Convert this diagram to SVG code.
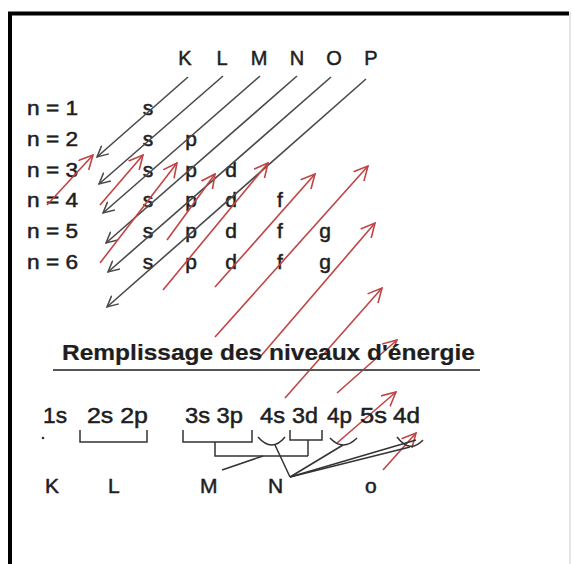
<svg xmlns="http://www.w3.org/2000/svg" width="573" height="564" viewBox="0 0 573 564">
<defs>
<style>
text{font-family:"Liberation Sans",Arial,sans-serif;fill:#1e1e1e;stroke:#1e1e1e;stroke-width:0.5}
.hd{font-size:20px;text-anchor:middle}
.nl{font-size:20px}
.sl{font-size:21px;text-anchor:middle}
.ti{font-size:22px;font-weight:bold;stroke-width:0.2}
.bt{font-size:22px}
.sh{font-size:21px}
.g{stroke:#4a4a4a;stroke-width:1.6;fill:none;marker-end:url(#ga)}
.r{stroke:#c04444;stroke-width:1.6;fill:none;marker-end:url(#ra)}
.k{stroke:#333;stroke-width:1.5;fill:none}
</style>
<marker id="ga" viewBox="0 0 12 12" refX="11" refY="6" markerWidth="12" markerHeight="12" orient="auto" markerUnits="userSpaceOnUse">
<path d="M0,0.5 L11,6 L0,11.5" fill="none" stroke="#4a4a4a" stroke-width="1.5"/>
</marker>
<marker id="ra" viewBox="0 0 15 15" refX="14" refY="7.5" markerWidth="15" markerHeight="15" orient="auto" markerUnits="userSpaceOnUse">
<path d="M0,0.5 L14,7.5 L0,14.5" fill="none" stroke="#c04444" stroke-width="1.6"/>
</marker>
</defs>
<rect width="573" height="564" fill="#fff"/>
<g id="frame">
<path d="M10,564 V13.5 H569" fill="none" stroke="#000" stroke-width="4"/>
<path d="M570,12 V564" fill="none" stroke="#ccc" stroke-width="1"/>
</g>
<g id="shells">
<text class="hd" x="185" y="65">K</text>
<text class="hd" x="222" y="65">L</text>
<text class="hd" x="259" y="65">M</text>
<text class="hd" x="297" y="65">N</text>
<text class="hd" x="334" y="65">O</text>
<text class="hd" x="371" y="65">P</text>
</g>
<g id="levels">
<text class="nl" x="27" y="115" textLength="51" lengthAdjust="spacingAndGlyphs">n = 1</text>
<text class="nl" x="27" y="146" textLength="51" lengthAdjust="spacingAndGlyphs">n = 2</text>
<text class="nl" x="27" y="177" textLength="51" lengthAdjust="spacingAndGlyphs">n = 3</text>
<text class="nl" x="27" y="207" textLength="51" lengthAdjust="spacingAndGlyphs">n = 4</text>
<text class="nl" x="27" y="238" textLength="51" lengthAdjust="spacingAndGlyphs">n = 5</text>
<text class="nl" x="27" y="269" textLength="51" lengthAdjust="spacingAndGlyphs">n = 6</text>
</g>
<g id="subshells">
<text class="sl" x="148" y="115">s</text>
<text class="sl" x="148" y="146">s</text><text class="sl" x="191" y="146">p</text>
<text class="sl" x="148" y="177">s</text><text class="sl" x="191" y="177">p</text><text class="sl" x="231" y="177">d</text>
<text class="sl" x="148" y="207">s</text><text class="sl" x="191" y="207">p</text><text class="sl" x="231" y="207">d</text><text class="sl" x="280" y="207">f</text>
<text class="sl" x="148" y="238">s</text><text class="sl" x="191" y="238">p</text><text class="sl" x="231" y="238">d</text><text class="sl" x="280" y="238">f</text><text class="sl" x="325" y="238">g</text>
<text class="sl" x="148" y="269">s</text><text class="sl" x="191" y="269">p</text><text class="sl" x="231" y="269">d</text><text class="sl" x="280" y="269">f</text><text class="sl" x="325" y="269">g</text>
</g>
<g id="connectors">
<path class="g" d="M188,77 L97,157"/>
<path class="g" d="M223,76 L99,184"/>
<path class="g" d="M260,76 L103,213"/>
<path class="g" d="M297,76 L106,243"/>
<path class="g" d="M331,77 L108,272"/>
<path class="g" d="M366,79 L107,307"/>
<path class="r" d="M47,205 L93,155"/>
<path class="r" d="M100,205 L143,155"/>
<path class="r" d="M100,263 L177,163"/>
<path class="r" d="M167,240 L215,174"/>
<path class="r" d="M163,290 L268,163"/>
<path class="r" d="M215,287 L315,174"/>
<path class="r" d="M215,337 L368,166"/>
<path class="r" d="M260,357 L375,223"/>
<path class="r" d="M285,398 L382,288"/>
<path class="r" d="M337,393 L397,340"/>
<path class="r" d="M337,443 L396,392"/>
<path class="r" d="M383,470 L416,433"/>
</g>
<g id="title">
<text class="ti" x="62" y="360" textLength="413" lengthAdjust="spacingAndGlyphs">Remplissage des niveaux d'énergie</text>
<path d="M53,370 H480" stroke="#555" stroke-width="2"/>
</g>
<g id="filling">
<text class="bt" x="43" y="423" textLength="24" lengthAdjust="spacingAndGlyphs">1s</text>
<text class="bt" x="87" y="423" textLength="61" lengthAdjust="spacingAndGlyphs">2s 2p</text>
<text class="bt" x="185" y="423" textLength="58" lengthAdjust="spacingAndGlyphs">3s 3p</text>
<text class="bt" x="260" y="423" textLength="25" lengthAdjust="spacingAndGlyphs">4s</text>
<text class="bt" x="292" y="423" textLength="26" lengthAdjust="spacingAndGlyphs">3d</text>
<text class="bt" x="327" y="423" textLength="25" lengthAdjust="spacingAndGlyphs">4p</text>
<text class="bt" x="360" y="423" textLength="27" lengthAdjust="spacingAndGlyphs">5s</text>
<text class="bt" x="393" y="423" textLength="27" lengthAdjust="spacingAndGlyphs">4d</text>
<circle cx="43" cy="438" r="1.3" fill="#333"/>
<path class="k" d="M80,430 V442 H147 V430"/>
<path class="k" d="M183,430 V442 H252 V430"/>
<path class="k" d="M215,442 V456 H308"/>
<path class="k" d="M290,430 V440 H322 V430"/>
<path class="k" d="M308,440 V456"/>
<path class="k" d="M222,470 L263,456"/>
<path class="k" d="M258,437 Q272,453 285,437"/>
<path class="k" d="M275,445 L290,477"/>
<path class="k" d="M330,438 Q343,452 357,438"/>
<path class="k" d="M397,437 Q410,454 423,440"/>
<path class="k" d="M290,477 L343,445"/>
<path class="k" d="M290,477 L410,447"/>
<path class="k" d="M290,477 L416,440"/>
</g>
<g id="shell-labels">
<text class="sh" x="45" y="493">K</text>
<text class="sh" x="108" y="493">L</text>
<text class="sh" x="200" y="493">M</text>
<text class="sh" x="268" y="493">N</text>
<text class="sh" x="365" y="493">o</text>
</g>
</svg>
